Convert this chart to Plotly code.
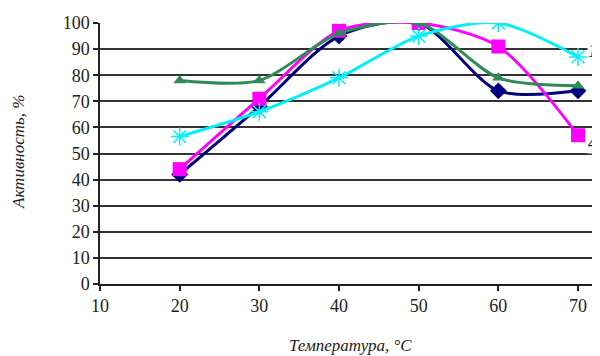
import plotly.graph_objects as go

temps = [20, 30, 40, 50, 60, 70]
s1 = [56.5, 66, 79, 95, 100, 87]     # cyan, asterisk
s2 = [78, 78, 96, 100, 79, 76]       # green, triangle
s3 = [42, 68, 95, 100, 74, 74]       # navy, diamond
s4 = [44, 71, 97, 100, 91, 57]       # magenta, square

x_ticks = [10, 20, 30, 40, 50, 60, 70]
y_ticks = [0, 10, 20, 30, 40, 50, 60, 70, 80, 90, 100]
curve_labels = ["1", "2", "3", "4"]
label_y = [89.3, 75.9, 69.3, 54.0]
label_x = [72.45, 72.4, 72.4, 72.45]
label_anchor = ["right", "left", "left", "right"]

fig = go.Figure()
fig.add_trace(go.Scatter(x=temps, y=s3, mode="lines+markers", line=dict(color="#000080", width=3, shape="spline", smoothing=0.8),
                         marker=dict(symbol="diamond", size=13, color="#000080")))
fig.add_trace(go.Scatter(x=temps, y=s4, mode="lines+markers", line=dict(color="#FF00FF", width=3, shape="spline", smoothing=0.8),
                         marker=dict(symbol="square", size=14, color="#FF00FF")))
fig.add_trace(go.Scatter(x=temps, y=s2, mode="lines+markers", line=dict(color="#2E8B57", width=3, shape="spline", smoothing=0.8),
                         marker=dict(symbol="triangle-up", size=11, color="#2E8B57")))
fig.add_trace(go.Scatter(x=temps, y=s1, mode="lines+markers", line=dict(color="#00F0F8", width=3, shape="spline", smoothing=0.8),
                         marker=dict(symbol="asterisk-open", size=15, line=dict(color="#00F0F8", width=1.5))))

font_serif = "Liberation Serif, Times New Roman, serif"
for t, xx, yy, anc in zip(curve_labels, label_x, label_y, label_anchor):
    fig.add_annotation(x=xx, y=yy, text="<i>" + t + "</i>", showarrow=False, xanchor=anc,
                       bgcolor="white", borderpad=0,
                       font=dict(family=font_serif, size=18, color="#222"))

# page body has an 8px margin; figure is offset by 8px
fig.add_annotation(xref="paper", yref="paper", x=(350 - 100) / 500, y=-(345 - 284) / 261,
                   text="<i>Температура, °С</i>", showarrow=False, xanchor="center", yanchor="middle",
                   font=dict(family=font_serif, size=17, color="#222"))
fig.add_annotation(xref="paper", yref="paper", x=-(100 - 18) / 500, y=(284 - 152) / 261,
                   text="<i>Активность, %</i>", showarrow=False, xanchor="center", yanchor="middle",
                   textangle=-90, font=dict(family=font_serif, size=17, color="#222"))

fig.update_layout(
    width=592, height=348,
    margin=dict(l=92, r=0, t=15, b=72),
    paper_bgcolor="white", plot_bgcolor="white",
    showlegend=False,
    font=dict(family=font_serif, size=18, color="#222"),
)
fig.update_xaxes(range=[10, 72.76], tickvals=x_ticks, showgrid=False, zeroline=False, automargin=False,
                 showline=True, linecolor="#222", linewidth=1.5,
                 ticks="outside", ticklen=5, tickcolor="#222", tickwidth=1.5)
fig.update_yaxes(range=[0, 100], tickvals=y_ticks, showgrid=True, gridcolor="#333", gridwidth=1.5,
                 zeroline=False, showline=True, linecolor="#222", linewidth=1.5, automargin=False,
                 ticks="outside", ticklen=5, tickcolor="#222", tickwidth=1.5)

fig.write_html("out.html")
